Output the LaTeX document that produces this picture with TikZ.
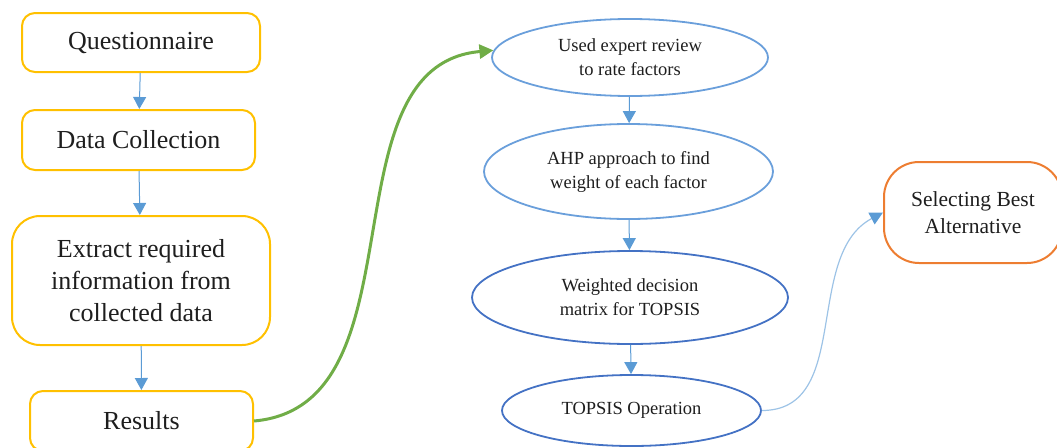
\documentclass[tikz,border=0pt]{standalone}
\usepackage{fontspec}
\setmainfont{Liberation Serif}
\usetikzlibrary{shapes.geometric,arrows.meta}

\definecolor{boxyellow}{HTML}{FFC000}
\definecolor{flowblue}{HTML}{5B9BD5}
\definecolor{stageblue}{HTML}{6A9FDB}
\definecolor{deepblue}{HTML}{4472C4}
\definecolor{paleblue}{HTML}{9DC3E6}
\definecolor{linkgreen}{HTML}{70AD47}
\definecolor{finalorange}{HTML}{ED7D31}
\definecolor{inkgray}{HTML}{1E1E1E}

\tikzset{
    stepbox/.style={draw=boxyellow, line width=2pt, rounded corners=13pt, inner sep=0pt,
        align=center, text=inkgray, font=\rmfamily\fontsize{26}{32}\selectfont},
    stage/.style={ellipse, draw=stageblue, line width=1.8pt, inner sep=0pt,
        align=center, text=inkgray, font=\rmfamily\fontsize{18.5}{24}\selectfont},
    flow/.style={draw=flowblue, line width=1pt, -{Triangle[length=12pt,width=13pt]}},
}

\begin{document}
\begin{tikzpicture}[x=1pt,y=-1pt]
    \useasboundingbox (0,0) rectangle (1057,447);
    % data gathering
    \node[stepbox, minimum width=238pt, minimum height=59pt] (quest) at (141,42.5) {Questionnaire};
    \node[stepbox, minimum width=233pt, minimum height=60pt] (collect) at (138.5,140) {Data Collection};
    \node[stepbox, rounded corners=28pt, minimum width=258pt, minimum height=129pt] (extract) at (141,280.5)
        {Extract required\\information from\\collected data};
    \node[stepbox, minimum width=223pt, minimum height=60pt] (results) at (141.5,421) {Results};
    % ranking
    \node[stage, minimum width=276pt, minimum height=77pt] (review) at (630,57.5) {Used expert review\\to rate factors};
    \node[stage, minimum width=289pt, minimum height=95pt] (ahp) at (628.5,171.5) {AHP approach to find\\weight of each factor};
    \node[stage, draw=deepblue, minimum width=316pt, minimum height=93pt] (matrix) at (630,297.5)
        {Weighted decision\\matrix for TOPSIS};
    \node[stage, draw=deepblue, minimum width=259pt, minimum height=71pt] (topsis) at (631.5,410.5) {TOPSIS Operation};
    \node[draw=finalorange, line width=2pt, rounded corners=35pt, inner sep=0pt, align=center, text=inkgray,
        font=\rmfamily\fontsize{21.5}{27}\selectfont, minimum width=178pt, minimum height=101pt] (best) at (973,212.5)
        {Selecting Best\\Alternative};

    \draw[flow] (quest) -- (collect);
    \draw[flow] (collect) -- (extract);
    \draw[flow] (extract) -- (results);
    \draw[flow] (review) -- (ahp);
    \draw[flow] (ahp) -- (matrix);
    \draw[flow] (matrix) -- (topsis);
    \draw[linkgreen, line width=3pt, -{Triangle[length=14pt,width=14pt]}]
        (results.east) to[out=5, in=185] (review.177);
    \draw[paleblue, line width=1.2pt, -{Triangle[length=13pt,width=13pt,color=flowblue]}]
        (topsis.east) to[out=0, in=208] (best.west);
\end{tikzpicture}
\end{document}
